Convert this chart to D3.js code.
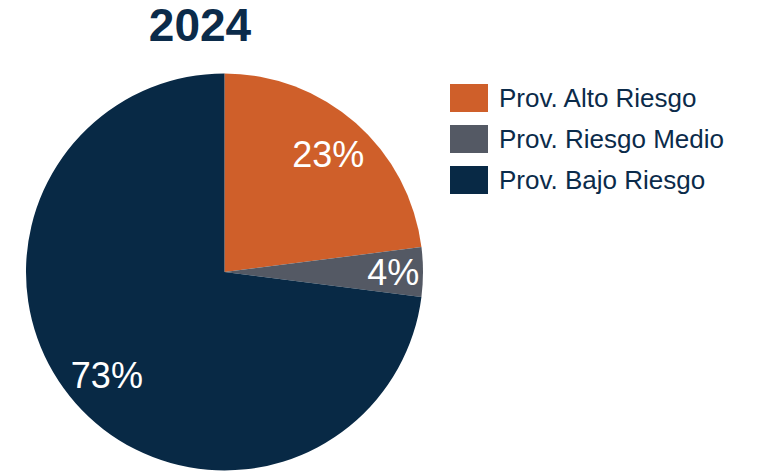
<!DOCTYPE html>
<html>
<head>
<meta charset="utf-8">
<script src="https://cdn.jsdelivr.net/npm/d3@7"></script>
<style>
  body { margin: 0; background: #fff; }
  text { font-family: "Liberation Sans", Arial, sans-serif; }
</style>
</head>
<body>
<svg id="chart"></svg>
<script>
var title = "2024";
var categories = ["Prov. Alto Riesgo", "Prov. Riesgo Medio", "Prov. Bajo Riesgo"];
var values = [23, 4, 73];
var colors = ["#CF5F2A", "#545964", "#082945"];

var width = 757, height = 473;
var cx = 224.5, cy = 272, radius = 198.5;

var svg = d3.select("#chart").attr("width", width).attr("height", height);

// title
svg.append("text")
  .attr("x", 200).attr("y", 41)
  .attr("text-anchor", "middle")
  .attr("font-size", 46).attr("font-weight", "bold")
  .attr("fill", "#0B2B4A")
  .text(title);

var pie = d3.pie().sort(null).value(function(d){ return d; });
var arc = d3.arc().innerRadius(0).outerRadius(radius);

var g = svg.append("g").attr("transform", "translate(" + cx + "," + cy + ")");
var arcs = pie(values);

g.selectAll("path")
  .data(arcs)
  .enter()
  .append("path")
  .attr("d", arc)
  .attr("fill", function(d, i){ return colors[i]; });

// labels, small slices pushed out a bit like Excel does
g.selectAll("text.lbl")
  .data(arcs)
  .enter()
  .append("text")
  .attr("class", "lbl")
  .attr("transform", function(d){
    var r = (d.endAngle - d.startAngle) < 0.5 ? radius * 0.85 : radius * 0.79;
    var c = d3.arc().innerRadius(r).outerRadius(r).centroid(d);
    return "translate(" + c[0] + "," + c[1] + ")";
  })
  .attr("text-anchor", "middle")
  .attr("dy", "0.35em")
  .attr("font-size", 36)
  .attr("fill", "#fff")
  .text(function(d){ return d.data + "%"; });

// legend
var legend = svg.append("g").attr("transform", "translate(450,84)");
var item = legend.selectAll("g")
  .data(categories)
  .enter()
  .append("g")
  .attr("transform", function(d, i){ return "translate(0," + i * 41 + ")"; });

item.append("rect")
  .attr("width", 38).attr("height", 28)
  .attr("fill", function(d, i){ return colors[i]; });

item.append("text")
  .attr("x", 49).attr("y", 23)
  .attr("font-size", 26)
  .attr("fill", "#0B2B4A")
  .text(function(d){ return d; });
</script>
</body>
</html>
